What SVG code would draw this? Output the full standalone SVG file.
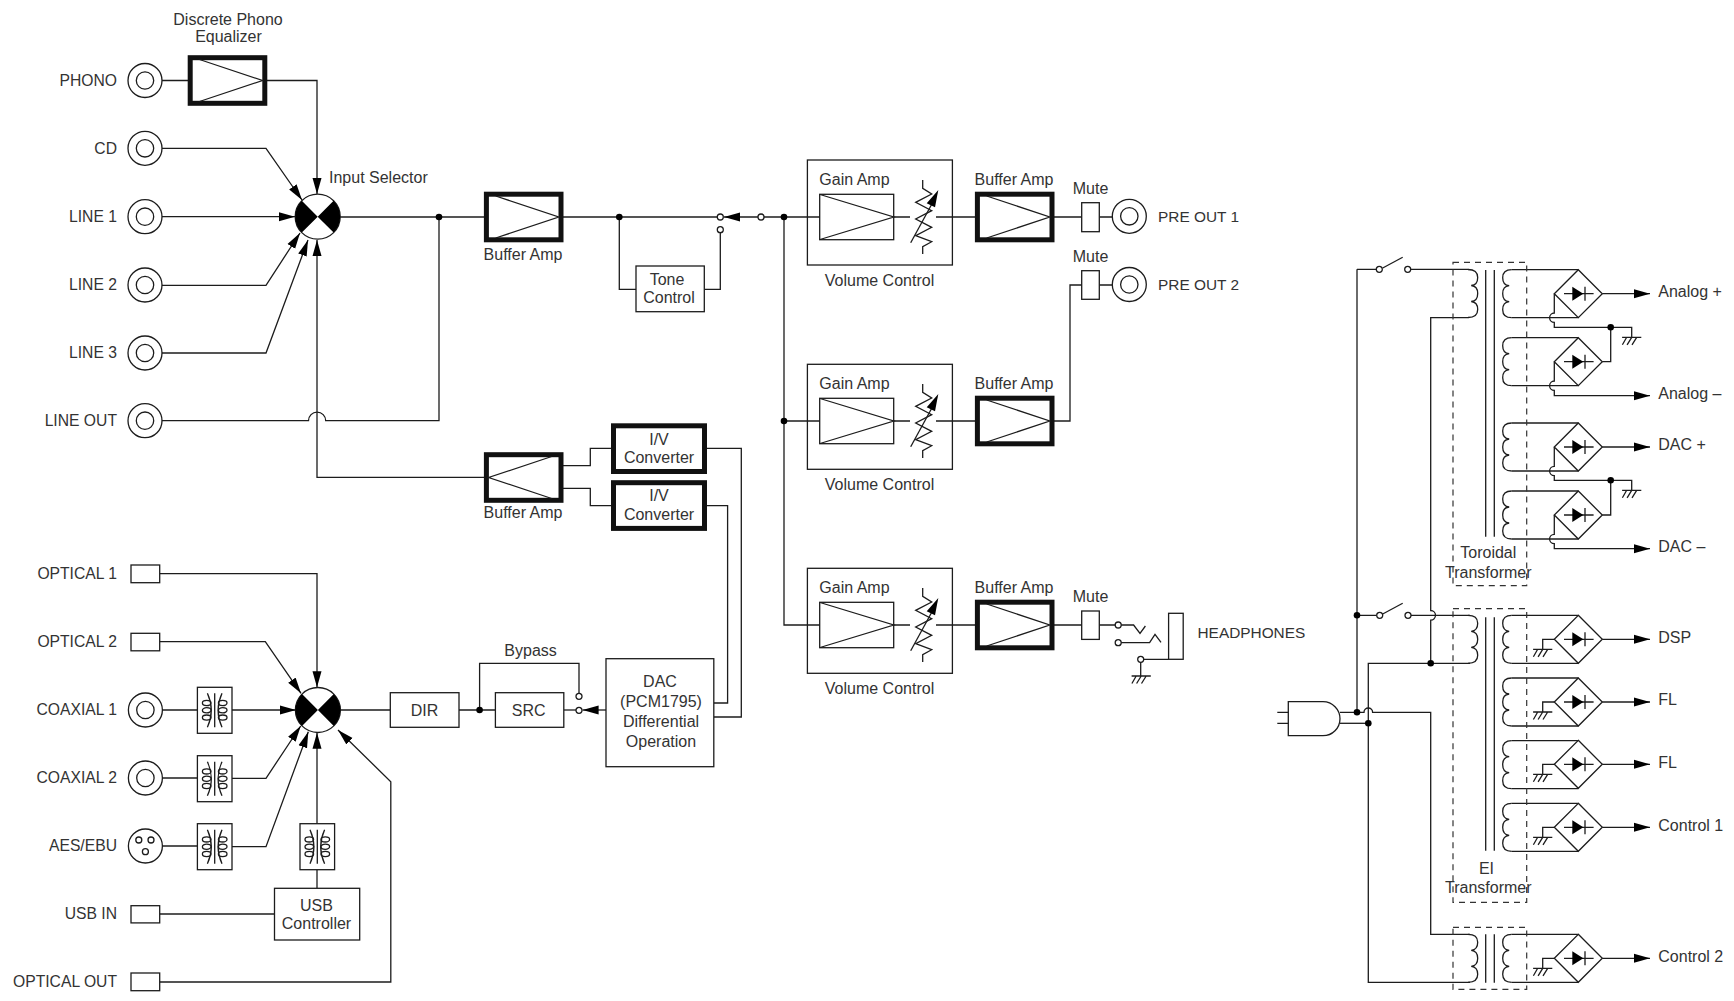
<svg xmlns="http://www.w3.org/2000/svg" width="1734" height="1001" viewBox="0 0 1734 1001">
<style>
text{font-family:"Liberation Sans",Arial,sans-serif;font-size:16px;fill:#333;transform:translateY(-0.5px)}
.m{text-anchor:middle}
.c{font-size:15.4px}
.r{text-anchor:end;font-size:15.7px}
.w,.w *{fill:none;stroke:#1c1c1c;stroke-width:1.3}
.b{fill:#fff;stroke:#1c1c1c;stroke-width:1.3}
.t{fill:#fff;stroke:#111;stroke-width:5}
.n{fill:none;stroke:#1c1c1c;stroke-width:1.3}
.d{fill:none;stroke:#333;stroke-width:1.2;stroke-dasharray:6 5}
.k{fill:#000;stroke:none}
.a{marker-end:url(#arrow)}
</style>
<defs>
<marker id="arrow" markerUnits="userSpaceOnUse" markerWidth="17" markerHeight="10" viewBox="0 -5 17 10" refX="16" refY="0" orient="auto"><path d="M0,-4.5L16,0L0,4.5Z" fill="#000"/></marker>
<g id="jack"><circle r="17" class="b"/><circle r="8.7" class="b"/></g>
<g id="sel"><circle r="22.5" class="b"/><path class="k" d="M0,0L-15.9,-15.9A22.5,22.5 0 0 0 -15.9,15.9ZM0,0L15.9,-15.9A22.5,22.5 0 0 1 15.9,15.9Z"/></g>
<g id="amp"><rect x="-37.3" y="-22.8" width="74.6" height="45.6" class="t"/><path class="n" d="M-28,-21L35,0L-28,21"/></g>
<g id="xf"><rect x="-17.3" y="-23" width="34.6" height="46" class="b"/><path class="n" d="M0,-17V17M-7.3,-17Q0.5,0 -7.3,17M7.3,-17Q-0.5,0 7.3,17"/><ellipse cx="-8" cy="-7.3" rx="4.3" ry="2.6" class="n"/><ellipse cx="-8" cy="0" rx="4.3" ry="2.6" class="n"/><ellipse cx="-8" cy="7.3" rx="4.3" ry="2.6" class="n"/><ellipse cx="8" cy="-7.3" rx="4.3" ry="2.6" class="n"/><ellipse cx="8" cy="0" rx="4.3" ry="2.6" class="n"/><ellipse cx="8" cy="7.3" rx="4.3" ry="2.6" class="n"/></g>
<g id="gnd"><path class="n" d="M-9.6,0H9.6M-5,0L-9.3,7.5M0,0L-4.6,7.5M5,0L0.3,7.5"/></g>
<path id="pri" class="n" d="M-9.7,0Q0,0 0,8Q0,15.5 -6.5,16Q0,16.5 0,24Q0,31.5 -6.5,32Q0,32.5 0,40Q0,48 -9.7,48"/>
<path id="sec" class="n" d="M9,0Q0,0 0,8Q0,15.5 6.5,16Q0,16.5 0,24Q0,31.5 6.5,32Q0,32.5 0,40Q0,48 9,48"/>
<g id="bridge"><path class="b" d="M0,-24L24,0L0,24L-24,0Z"/><path class="n" d="M-14.3,0H15.3M6.7,-7V7"/><path class="k" d="M-6,-7L5,0L-6,7Z"/></g>
<g id="res"><path class="n" d="M0,-37V-28.7L9,-23L-7,-14.7L9,-6.3L-7,2L9,10.3L-7,18.7L9,24.7L0,29.7V37"/><path class="n" d="M-12,25.7L13,-20"/><path class="k" d="M15.6,-27L4,-13.7L12.3,-9.7Z"/></g>
<circle id="dot" r="3.3" class="k"/>
<circle id="nd" r="3" class="b"/>
</defs>

<g id="connectors" class="w">
<path d="M153.6,80.5H190"/>
<path class="a" d="M265,80.5H317V194"/>
<path class="a" d="M153.6,148.3H266L302,200"/>
<path class="a" d="M153.6,216.7H295"/>
<path class="a" d="M153.6,285.3H266L300,233"/>
<path class="a" d="M153.6,353H266L308,240"/>
<path d="M153.6,420.7H308.5A8.6,8.6 0 0 1 325.7,420.7H439V217"/>
<path d="M340,217H486"/>
<path class="a" d="M484,477.3H317V240"/>
<path d="M561,217H717"/>
<path d="M619.3,217V289.3H636"/>
<path d="M704.3,289.3H720.3V233"/>
<path class="a" d="M784,217H724"/>
<path d="M784,217H820"/>
<path d="M894,217H910M936,217H977"/>
<path d="M894,421H910M936,421H977"/>
<path d="M894,625H910M936,625H977"/>
<path d="M784,217V625H820"/>
<path d="M784,421H820"/>
<path d="M1052,217H1082M1099.3,217H1112"/>
<path d="M1052,421H1070V285H1082M1099.3,285H1112"/>
<path d="M1052,625H1082M1099.3,625H1115"/>
<path d="M561,465.7H590.3V448.3H613"/>
<path d="M561,488.3H590.3V505.7H613"/>
<path d="M705,448.3H741.3V717H713.8"/>
<path d="M705,505.7H727.6V703H713.8"/>
<path class="a" d="M159.7,573.7H317V687.3"/>
<path class="a" d="M159.7,641.7H265.3L301,693.3"/>
<path d="M153.6,710H197.4"/>
<path d="M153.6,778H197.4"/>
<path d="M162.4,846H197.4"/>
<path class="a" d="M232,710H296"/>
<path class="a" d="M232,778.3H266L300.7,726"/>
<path class="a" d="M232,846.7H266L308.3,731.7"/>
<path class="a" d="M317,824V732.7"/>
<path d="M317,869.7V888.3"/>
<path d="M159.7,914H274.5"/>
<path class="a" d="M159.7,982H390.8V781.7L338,730"/>
<path d="M340,710H390.3M459,710H495.4"/>
<path d="M479.6,710V663.3H579V693"/>
<path d="M563.8,710H576"/>
<path class="a" d="M606,710H582.6"/>
<path d="M1357,269.3V712.3"/>
<path d="M1357,269.3H1376.3M1410.7,269.3H1468.3"/>
<path d="M1382.7,268L1402.7,257.3"/>
<path d="M1357,615.3H1376.7M1411,615.3H1470"/>
<path d="M1382.7,614L1402.7,603.3"/>
<path d="M1468.3,317.7H1430.7V610.5a4.8,4.8 0 0 1 0,9.6V663.3"/>
<path d="M1470,663.3H1368.3V982.3H1470"/>
<path d="M1340,712.3H1364a4.3,4.3 0 0 1 8.6,0H1430.7V934.3H1470"/>
<path d="M1340,723.3H1368.3"/>
<path d="M1511.7,269.7H1578.3"/>
<path d="M1511.7,317.7H1578.3"/>
<path d="M1511.7,337.7H1578.3"/>
<path d="M1511.7,385.7H1578.3"/>
<path d="M1511.7,423H1578.3"/>
<path d="M1511.7,471H1578.3"/>
<path d="M1511.7,491H1578.3"/>
<path d="M1511.7,539H1578.3"/>
<path d="M1554.3,293.7V313a4.7,4.7 0 0 0 0,9.4V327.3H1631.7V337.3"/>
<path d="M1554.3,361.7V381a4.7,4.7 0 0 0 0,9.4V395.7H1650" class="a"/>
<path d="M1554.3,447V466.3a4.7,4.7 0 0 0 0,9.4V480.3H1631.7V490.3"/>
<path d="M1554.3,515V534.3a4.7,4.7 0 0 0 0,9.4V548.7H1650" class="a"/>
<path d="M1602.3,361.7H1610.7V327.3"/>
<path d="M1602.3,515H1610.7V480.3"/>
<path class="a" d="M1602.3,293.7H1650"/>
<path class="a" d="M1602.3,447H1650"/>
<path d="M1511.7,615.3H1578.3M1511.7,663.3H1578.3"/>
<path d="M1511.7,678H1578.3M1511.7,726H1578.3"/>
<path d="M1511.7,740.7H1578.3M1511.7,788.7H1578.3"/>
<path d="M1511.7,803.3H1578.3M1511.7,851.3H1578.3"/>
<path d="M1511.7,934.3H1578.3M1511.7,982.3H1578.3"/>
<path class="a" d="M1602.3,639.3H1650"/>
<path class="a" d="M1602.3,702H1650"/>
<path class="a" d="M1602.3,764.3H1650"/>
<path class="a" d="M1602.3,827.3H1650"/>
<path class="a" d="M1602.3,958.3H1650"/>
<path d="M1554.3,639.3H1542.7V649.3"/>
<path d="M1554.3,702H1542.7V712"/>
<path d="M1554.3,764.3H1542.7V774.3"/>
<path d="M1554.3,827.3H1542.7V837.3"/>
<path d="M1554.3,958.3H1542.7V968.3"/>
</g>

<g id="phono"><use href="#jack" x="145" y="80.5"/><text class="r" x="117" y="86">PHONO</text></g>
<g id="cd"><use href="#jack" x="145" y="148.3"/><text class="r" x="117" y="154">CD</text></g>
<g id="line1"><use href="#jack" x="145" y="216.7"/><text class="r" x="117" y="222.3">LINE 1</text></g>
<g id="line2"><use href="#jack" x="145" y="285"/><text class="r" x="117" y="290">LINE 2</text></g>
<g id="line3"><use href="#jack" x="145" y="353"/><text class="r" x="117" y="358.3">LINE 3</text></g>
<g id="lineout"><use href="#jack" x="145" y="420.7"/><text class="r" x="117" y="426">LINE OUT</text></g>
<g id="phono-eq"><use href="#amp" x="227.5" y="80.5"/><text class="m" x="228" y="25">Discrete Phono</text><text class="m" x="228.5" y="42.5">Equalizer</text></g>
<g id="input-selector"><use href="#sel" x="317.7" y="216.7"/><text x="329" y="183">Input Selector</text></g>
<g id="dot1"><use href="#dot" x="439" y="217"/></g>
<g id="buffer1"><use href="#amp" x="523.7" y="217"/><text class="m" x="523" y="260">Buffer Amp</text></g>
<g id="dot2"><use href="#dot" x="619.3" y="217"/></g>
<g id="tone"><rect class="b" x="636" y="266" width="68.3" height="45.7"/><text class="m" x="667" y="285">Tone</text><text class="m" x="669" y="303">Control</text></g>
<g id="tone-switch"><use href="#nd" x="720.3" y="217"/><use href="#nd" x="720.3" y="229.7"/><use href="#nd" x="761" y="217"/></g>
<g id="dot3"><use href="#dot" x="784" y="217"/></g>
<g id="dot4"><use href="#dot" x="784" y="421"/></g>

<g id="vol1"><rect class="n" x="807.4" y="160" width="145" height="105"/><rect class="n" x="819.7" y="194.3" width="74" height="45.4"/><path class="n" d="M820,194.5L893.7,217L820,239.5"/><use href="#res" x="922.7" y="217"/><text x="819.3" y="185">Gain Amp</text><text class="m" x="879.5" y="286">Volume Control</text></g>
<g id="vol2"><rect class="n" x="807.4" y="364.3" width="145" height="105"/><rect class="n" x="819.7" y="398.3" width="74" height="45.4"/><path class="n" d="M820,398.5L893.7,421L820,443.5"/><use href="#res" x="922.7" y="421"/><text x="819.3" y="389">Gain Amp</text><text class="m" x="879.5" y="490">Volume Control</text></g>
<g id="vol3"><rect class="n" x="807.4" y="568.3" width="145" height="105"/><rect class="n" x="819.7" y="602.3" width="74" height="45.4"/><path class="n" d="M820,602.5L893.7,625L820,647.5"/><use href="#res" x="922.7" y="625"/><text x="819.3" y="593">Gain Amp</text><text class="m" x="879.5" y="694">Volume Control</text></g>

<g id="buffer2"><use href="#amp" x="1014.7" y="217"/><text class="m" x="1014" y="185">Buffer Amp</text></g>
<g id="buffer3"><use href="#amp" x="1014.7" y="421"/><text class="m" x="1014" y="389">Buffer Amp</text></g>
<g id="buffer4"><use href="#amp" x="1014.7" y="625"/><text class="m" x="1014" y="593">Buffer Amp</text></g>

<g id="mute1"><rect class="b" x="1081.7" y="202.7" width="17.6" height="29"/><text class="m" x="1090.5" y="194.5">Mute</text></g>
<g id="mute2"><rect class="b" x="1081.7" y="270.7" width="17.6" height="28.6"/><text class="m" x="1090.5" y="262.7">Mute</text></g>
<g id="mute3"><rect class="b" x="1081.7" y="611" width="17.6" height="28.4"/><text class="m" x="1090.5" y="602.7">Mute</text></g>
<g id="preout1"><use href="#jack" x="1129.3" y="216.3"/><text class="c" x="1158" y="222">PRE OUT 1</text></g>
<g id="preout2"><use href="#jack" x="1129.3" y="284.5"/><text class="c" x="1158" y="290">PRE OUT 2</text></g>
<g id="headphones"><path class="n" d="M1118,625H1133.6L1140,633.3L1145.4,626M1118,642.7H1149.6L1155,634.3L1161,642.3M1140.7,659.3H1168.6M1140.7,659.3V676"/><rect class="b" x="1168.6" y="613.3" width="14.6" height="46"/><use href="#nd" x="1118.2" y="625"/><use href="#nd" x="1118.2" y="642.7"/><use href="#nd" x="1140.7" y="659.3"/><use href="#gnd" x="1141.2" y="676"/><text class="c" x="1197.5" y="638.3">HEADPHONES</text></g>

<g id="buffer5"><use href="#amp" transform="translate(523.7,477.5) scale(-1,1)"/><text class="m" x="523" y="518">Buffer Amp</text></g>
<g id="iv1"><rect class="t" x="613.5" y="425.8" width="91" height="45.7"/><text class="m" x="659" y="445">I/V</text><text class="m" x="659" y="463">Converter</text></g>
<g id="iv2"><rect class="t" x="613.5" y="482.7" width="91" height="45.7"/><text class="m" x="659" y="501.7">I/V</text><text class="m" x="659" y="520">Converter</text></g>

<g id="optical1"><rect class="b" x="131" y="565" width="28.7" height="17.7"/><text class="r" x="117" y="579">OPTICAL 1</text></g>
<g id="optical2"><rect class="b" x="131" y="633.3" width="28.7" height="17.5"/><text class="r" x="117" y="647">OPTICAL 2</text></g>
<g id="coaxial1"><use href="#jack" x="145.4" y="710"/><text class="r" x="117" y="715">COAXIAL 1</text></g>
<g id="coaxial2"><use href="#jack" x="145.4" y="778"/><text class="r" x="117" y="783">COAXIAL 2</text></g>
<g id="aes"><circle class="b" cx="145.4" cy="846" r="17"/><circle class="n" cx="138.8" cy="840" r="3"/><circle class="n" cx="151" cy="840" r="3"/><circle class="n" cx="145.4" cy="851.7" r="3"/><text class="r" x="117" y="851">AES/EBU</text></g>
<g id="usbin"><rect class="b" x="131" y="905.7" width="28.7" height="17.2"/><text class="r" x="117" y="919">USB IN</text></g>
<g id="opticalout"><rect class="b" x="131" y="973" width="28.7" height="17.7"/><text class="r" x="117" y="987">OPTICAL OUT</text></g>
<g id="xf1"><use href="#xf" x="214.7" y="710.3"/></g>
<g id="xf2"><use href="#xf" x="214.7" y="778.7"/></g>
<g id="xf3"><use href="#xf" x="214.7" y="846.7"/></g>
<g id="xf4"><use href="#xf" x="317.3" y="846.7"/></g>
<g id="usb-controller"><rect class="b" x="274.5" y="888.3" width="85.2" height="51.7"/><text class="m" x="316.5" y="911.7">USB</text><text class="m" x="316.5" y="929.5">Controller</text></g>
<g id="digital-selector"><use href="#sel" x="317.9" y="710"/></g>
<g id="dir"><rect class="b" x="390.3" y="692.7" width="68.7" height="34.6"/><text class="m" x="424.6" y="716">DIR</text></g>
<g id="dot5"><use href="#dot" x="479.6" y="710"/></g>
<g id="src"><rect class="b" x="495.4" y="692.7" width="68.4" height="34.6"/><text class="m" x="528.6" y="716">SRC</text></g>
<g id="bypass"><use href="#nd" x="579" y="696.3"/><use href="#nd" x="579" y="710.3"/><text class="m" x="530.6" y="656.7">Bypass</text></g>
<g id="dac"><rect class="b" x="606" y="658.7" width="107.8" height="108"/><text class="m" x="660" y="687.3">DAC</text><text class="m" x="661" y="707.3">(PCM1795)</text><text class="m" x="661" y="727.3">Differential</text><text class="m" x="661" y="747.3">Operation</text></g>

<g id="plug"><path class="b" d="M1288.3,701.7H1323A17,17 0 0 1 1340,718.7A17,17 0 0 1 1323,735.7H1288.3Z"/><path class="n" d="M1277.3,712.3H1288.3M1277.3,723.3H1288.3"/></g>
<g id="power-switches"><use href="#nd" x="1379.3" y="269.3"/><use href="#nd" x="1407.7" y="269.3"/><use href="#nd" x="1379.7" y="615.3"/><use href="#nd" x="1408" y="615.3"/></g>
<g id="power-dots"><use href="#dot" x="1357" y="615.3"/><use href="#dot" x="1357" y="712.3"/><use href="#dot" x="1368.3" y="723.3"/><use href="#dot" x="1430.7" y="663.3"/></g>

<g id="toroidal"><rect class="d" x="1453" y="262.3" width="73.7" height="323.4"/><use href="#pri" x="1477.7" y="269.5"/><path class="n" d="M1485.7,270V536.7M1494.3,270V536.7"/><use href="#sec" x="1502.7" y="269.7"/><use href="#sec" x="1502.7" y="337.7"/><use href="#sec" x="1502.7" y="423"/><use href="#sec" x="1502.7" y="491"/><text class="m" x="1488.3" y="558.3">Toroidal</text><text class="m" x="1488.3" y="578.3">Transformer</text></g>
<g id="ei"><rect class="d" x="1453" y="608.7" width="73.7" height="293.6"/><use href="#pri" x="1477.7" y="615.3"/><path class="n" d="M1485.7,617.3V850.7M1494.3,617.3V850.7"/><use href="#sec" x="1502.7" y="615.3"/><use href="#sec" x="1502.7" y="678"/><use href="#sec" x="1502.7" y="740.7"/><use href="#sec" x="1502.7" y="803.3"/><text class="m" x="1486.5" y="874.3">EI</text><text class="m" x="1488.3" y="893.3">Transformer</text></g>
<g id="small-transformer"><rect class="d" x="1453" y="927.3" width="73.7" height="62"/><use href="#pri" x="1477.7" y="934.3"/><path class="n" d="M1485.7,934.3V982.7M1494.3,934.3V982.7"/><use href="#sec" x="1502.7" y="934.3"/></g>

<g id="analog-plus"><use href="#bridge" x="1578.3" y="293.7"/><text x="1658.3" y="297.7">Analog +</text></g>
<g id="analog-minus"><use href="#bridge" x="1578.3" y="361.7"/><text x="1658.3" y="399.7">Analog –</text></g>
<g id="dac-plus"><use href="#bridge" x="1578.3" y="447"/><text x="1658.3" y="450.7">DAC +</text></g>
<g id="dac-minus"><use href="#bridge" x="1578.3" y="515"/><text x="1658.3" y="552.7">DAC –</text></g>
<g id="ground-a"><use href="#dot" x="1610.7" y="327.3"/><use href="#gnd" x="1631.7" y="337.3"/></g>
<g id="ground-d"><use href="#dot" x="1610.7" y="480.3"/><use href="#gnd" x="1631.7" y="490.3"/></g>
<g id="dsp"><use href="#bridge" x="1578.3" y="639.3"/><use href="#gnd" x="1542.7" y="649.3"/><text x="1658.3" y="643">DSP</text></g>
<g id="fl1"><use href="#bridge" x="1578.3" y="702"/><use href="#gnd" x="1542.7" y="712"/><text x="1658.3" y="705.7">FL</text></g>
<g id="fl2"><use href="#bridge" x="1578.3" y="764.3"/><use href="#gnd" x="1542.7" y="774.3"/><text x="1658.3" y="768">FL</text></g>
<g id="control1"><use href="#bridge" x="1578.3" y="827.3"/><use href="#gnd" x="1542.7" y="837.3"/><text x="1658.3" y="831">Control 1</text></g>
<g id="control2"><use href="#bridge" x="1578.3" y="958.3"/><use href="#gnd" x="1542.7" y="968.3"/><text x="1658.3" y="962">Control 2</text></g>
</svg>
